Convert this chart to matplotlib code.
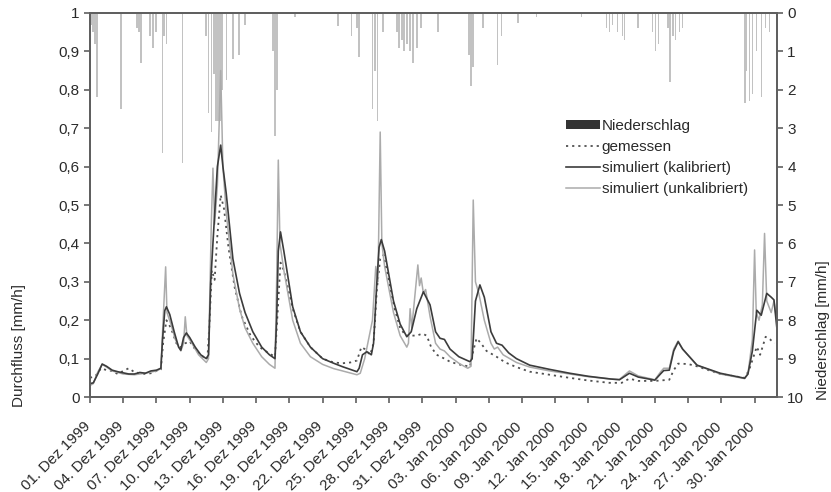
import numpy as np
import pandas as pd
import matplotlib
matplotlib.use("Agg")
import matplotlib.pyplot as plt
from matplotlib.patches import Patch
from matplotlib.lines import Line2D
from matplotlib.ticker import FuncFormatter
from matplotlib.transforms import ScaledTranslation

plt.rcParams['font.family'] = ['Liberation Sans', 'DejaVu Sans']

# Zeit in Tagen ab 01.12.1999 00:00
t_kal = [0.0, 0.3, 0.7, 1.1, 1.5, 2.0, 2.5, 3.0, 3.5, 4.0, 4.5, 5.0, 5.5, 6.0, 6.4,
         6.55, 6.75, 6.9, 7.2, 7.6, 8.0, 8.2, 8.45, 8.7, 9.0, 9.5, 10.0, 10.5, 10.7,
         10.9, 11.2, 11.5, 11.8, 12.0, 12.3, 12.9, 13.5, 14.0, 14.7, 15.5, 16.2, 16.7,
         16.85, 17.0, 17.2, 17.5, 18.3, 19.0, 19.9, 21.0, 22.0, 22.8, 24.1, 24.3, 24.6,
         25.0, 25.4, 25.6, 25.9, 26.1, 26.3, 26.6, 27.4, 28.0, 28.6, 29.0, 29.5, 30.1,
         30.7, 31.2, 31.6, 32.0, 32.5, 33.3, 34.3, 34.5, 34.8, 35.2, 35.6, 36.2, 36.7,
         37.2, 37.8, 38.5, 39.7, 41.5, 43.3, 45.0, 47.0, 47.8, 48.7, 49.5, 51.0, 51.5,
         51.8, 52.3, 52.7, 53.1, 53.5, 54.8, 56.9, 59.1, 59.4, 59.8, 60.2, 60.6, 61.1,
         61.5, 61.75, 62.0]
q_kal = [0.035, 0.037, 0.06, 0.086, 0.08, 0.07, 0.066, 0.063, 0.06, 0.06, 0.064, 0.062,
         0.068, 0.07, 0.075, 0.15, 0.225, 0.235, 0.215, 0.17, 0.13, 0.122, 0.155, 0.167,
         0.155, 0.13, 0.11, 0.10, 0.11, 0.30, 0.45, 0.60, 0.656, 0.60, 0.53, 0.36, 0.27,
         0.22, 0.17, 0.13, 0.11, 0.10, 0.20, 0.38, 0.43, 0.38, 0.235, 0.17, 0.13, 0.10,
         0.088, 0.079, 0.066, 0.075, 0.11, 0.118, 0.11, 0.14, 0.30, 0.39, 0.41, 0.38,
         0.25, 0.19, 0.157, 0.17, 0.23, 0.274, 0.24, 0.17, 0.153, 0.15, 0.125, 0.105,
         0.092, 0.10, 0.25, 0.292, 0.26, 0.17, 0.14, 0.135, 0.115, 0.10, 0.083, 0.072,
         0.062, 0.054, 0.047, 0.045, 0.062, 0.052, 0.044, 0.06, 0.069, 0.07, 0.12, 0.144,
         0.125, 0.083, 0.062, 0.049, 0.06, 0.12, 0.226, 0.213, 0.27, 0.26, 0.253, 0.183]

t_unk = [0.0, 0.3, 0.7, 1.1, 1.5, 2.0, 3.0, 4.0, 5.0, 6.0, 6.4, 6.6, 6.83, 6.95, 7.3,
         7.7, 8.2, 8.45, 8.6, 8.75, 9.2, 9.8, 10.5, 10.7, 10.95, 11.1, 11.25, 11.5, 11.8,
         12.0, 12.3, 12.9, 13.5, 14.0, 14.7, 15.5, 16.2, 16.7, 16.85, 17.0, 17.15, 17.5,
         18.3, 19.0, 19.9, 21.0, 22.0, 22.8, 24.1, 24.4, 24.8, 25.5, 25.8, 26.0, 26.2,
         26.35, 26.6, 27.4, 28.0, 28.6, 28.75, 28.9, 29.05, 29.6, 29.75, 29.9, 30.1, 30.3,
         30.7, 31.2, 31.6, 32.0, 32.5, 33.3, 34.1, 34.4, 34.6, 34.8, 35.1, 35.6, 36.2,
         36.5, 36.8, 37.3, 38.5, 39.7, 41.5, 43.3, 45.0, 47.0, 47.8, 48.7, 49.5, 51.0,
         51.5, 51.8, 52.3, 52.7, 53.1, 53.5, 54.8, 56.9, 59.1, 59.4, 59.8, 60.0, 60.15,
         60.4, 60.7, 60.9, 61.1, 61.5, 61.75, 62.0]
q_unk = [0.03, 0.035, 0.065, 0.085, 0.078, 0.068, 0.06, 0.058, 0.062, 0.068, 0.074, 0.20,
         0.339, 0.22, 0.19, 0.15, 0.12, 0.14, 0.209, 0.16, 0.14, 0.11, 0.09, 0.10, 0.45,
         0.596, 0.45, 0.55, 0.85, 0.60, 0.48, 0.32, 0.23, 0.18, 0.14, 0.105, 0.085, 0.075,
         0.30, 0.617, 0.40, 0.33, 0.20, 0.14, 0.105, 0.085, 0.074, 0.068, 0.058, 0.062,
         0.10, 0.20, 0.34, 0.30, 0.69, 0.40, 0.34, 0.22, 0.16, 0.13, 0.14, 0.23, 0.18,
         0.344, 0.29, 0.31, 0.27, 0.28, 0.21, 0.14, 0.125, 0.12, 0.105, 0.088, 0.075, 0.08,
         0.513, 0.30, 0.27, 0.20, 0.14, 0.125, 0.13, 0.11, 0.09, 0.078, 0.068, 0.06, 0.053,
         0.047, 0.046, 0.068, 0.055, 0.045, 0.065, 0.075, 0.075, 0.125, 0.146, 0.125, 0.083,
         0.06, 0.048, 0.06, 0.15, 0.383, 0.22, 0.20, 0.24, 0.426, 0.25, 0.22, 0.25, 0.20]

t_gem = [0.0, 0.5, 1.0, 1.5, 2.0, 2.5, 3.0, 3.5, 4.0, 4.5, 5.0, 5.5, 6.0, 6.4, 6.6, 6.9,
         7.3, 7.8, 8.2, 8.6, 9.0, 9.6, 10.2, 10.6, 10.8, 11.0, 11.25, 11.5, 11.8, 12.1,
         12.5, 13.05, 13.7, 14.5, 15.3, 16.1, 16.7, 16.9, 17.2, 17.5, 18.3, 19.0, 19.9,
         21.0, 22.0, 22.8, 23.5, 24.1, 24.5, 24.8, 25.3, 25.6, 25.9, 26.2, 26.5, 27.0,
         27.5, 28.0, 28.5, 29.0, 29.5, 30.0, 30.4, 30.8, 31.3, 32.0, 32.5, 33.3, 34.3,
         34.6, 34.9, 35.3, 35.8, 36.7, 37.5, 38.5, 39.7, 41.5, 43.3, 45.0, 46.9, 48.0,
         48.7, 49.5, 51.0, 52.3, 52.7, 53.1, 54.0, 54.8, 56.9, 59.1, 59.5, 59.8, 60.2,
         60.5, 61.0, 61.4, 61.8]
q_gem = [0.05, 0.055, 0.075, 0.07, 0.068, 0.06, 0.068, 0.075, 0.065, 0.062, 0.06, 0.062,
         0.068, 0.072, 0.14, 0.20, 0.18, 0.14, 0.13, 0.14, 0.145, 0.12, 0.105, 0.10, 0.20,
         0.33, 0.305, 0.42, 0.526, 0.49, 0.39, 0.287, 0.21, 0.16, 0.13, 0.115, 0.105, 0.20,
         0.35, 0.33, 0.23, 0.17, 0.13, 0.10, 0.09, 0.088, 0.09, 0.095, 0.13, 0.125, 0.11,
         0.14, 0.28, 0.36, 0.37, 0.30, 0.23, 0.18, 0.16, 0.16, 0.16, 0.165, 0.16, 0.13,
         0.11, 0.10, 0.092, 0.085, 0.079, 0.12, 0.153, 0.14, 0.12, 0.105, 0.09, 0.078,
         0.066, 0.058, 0.05, 0.043, 0.037, 0.037, 0.048, 0.042, 0.042, 0.045, 0.07, 0.087,
         0.086, 0.08, 0.06, 0.05, 0.07, 0.096, 0.131, 0.11, 0.157, 0.15, 0.14]

# Niederschlag (mm/h)
t_ns = [0.09, 0.27, 0.45, 0.63, 2.8, 4.24, 4.42, 4.6, 5.42, 5.69, 5.96, 6.53, 6.68, 6.92,
        8.37, 10.47, 10.68, 10.98, 11.19, 11.37, 11.55, 11.73, 11.91, 12.34, 12.9, 13.45,
        13.99, 16.52, 16.7, 16.88, 18.5, 22.38, 23.62, 24.1, 24.3, 25.48, 25.72, 25.97,
        26.44, 27.71, 27.89, 28.16, 28.34, 28.61, 28.88, 29.15, 29.51, 29.87, 31.41, 34.21,
        34.39, 34.57, 35.47, 36.8, 37.18, 38.63, 40.34, 44.4, 46.66, 46.93, 47.2, 47.65,
        48.1, 48.28, 49.46, 50.81, 51.08, 51.35, 52.17, 52.35, 52.62, 52.89, 53.25, 53.52,
        59.12, 59.3, 59.57, 59.84, 60.2, 60.65, 61.0, 61.37]
p_ns = [0.3, 0.5, 0.8, 2.2, 2.5, 0.4, 0.5, 1.3, 0.6, 0.9, 0.5, 3.65, 0.6, 0.8, 3.9, 0.6,
        2.6, 3.1, 1.6, 2.8, 2.8, 2.8, 2.0, 1.75, 1.2, 1.1, 0.3, 1.0, 3.2, 2.0, 0.1, 0.35,
        0.6, 0.4, 1.14, 2.5, 1.5, 2.8, 0.5, 0.5, 0.9, 0.7, 1.0, 0.8, 1.0, 1.3, 0.9, 0.4,
        0.5, 1.1, 1.9, 1.4, 0.4, 1.35, 0.6, 0.25, 0.1, 0.1, 0.4, 0.5, 0.3, 0.5, 0.6, 0.7,
        0.4, 0.5, 1.0, 0.8, 0.4, 1.8, 0.6, 0.7, 0.5, 0.4, 2.35, 1.5, 2.3, 2.1, 1.0, 2.2,
        0.4, 0.5]

# Achsenbeschriftung alle 3 Tage
start = pd.Timestamp("1999-12-01")
tick_dates = pd.date_range(start, "2000-01-30", freq="3D")
monat = {12: "Dez", 1: "Jan"}
tick_labels = [f"{d.day:02d}. {monat[d.month]} {d.year}" for d in tick_dates]
tick_pos = [(d - start).days for d in tick_dates]

achse = '#606060'
schrift = '#2a2a2a'
fs = 11

fig = plt.figure(figsize=(8.31, 4.92), dpi=100)
ax1 = fig.add_axes([0.1083, 0.193, 0.8264, 0.7806])
ax2 = ax1.twinx()

# Niederschlag von oben
ax2.bar(t_ns, p_ns, width=0.12, color='#c2c2c2', edgecolor='none', align='center')
ax2.set_ylim(10, 0)
ax2.set_yticks(range(0, 11))

ax1.set_zorder(ax2.get_zorder() + 1)
ax1.patch.set_visible(False)

ax1.plot(t_gem, q_gem, color='#505050', lw=1.3, ls=(0, (1.2, 2.2)))
ax1.plot(t_unk, q_unk, color='#ababab', lw=1.1)
ax1.plot(t_kal, q_kal, color='#3c3c3c', lw=1.2)

ax1.set_xlim(0, 62)
ax1.set_ylim(0, 1)
ax1.set_yticks(np.arange(0, 1.01, 0.1))
ax1.yaxis.set_major_formatter(FuncFormatter(
    lambda v, p: "0" if abs(v) < 1e-9 else ("1" if abs(v - 1) < 1e-9 else f"{v:.1f}".replace(".", ","))))
ax1.set_xticks(tick_pos)
ax1.set_xticklabels(tick_labels, rotation=45, ha='right', va='top', rotation_mode='anchor')

for ax in (ax1, ax2):
    for s in ax.spines.values():
        s.set_color(achse)
        s.set_linewidth(1.4)
    ax.tick_params(direction='out', length=4, width=1.2, color=achse, labelsize=fs,
                   labelcolor=schrift)

# Datumsbeschriftung etwas nach links unten versetzen
shift = ScaledTranslation(-0.07, -0.12, fig.dpi_scale_trans)
for lbl in ax1.get_xticklabels():
    lbl.set_transform(lbl.get_transform() + shift)

ax1.set_ylabel("Durchfluss [mm/h]", fontsize=fs, loc='bottom', color=schrift)
ax2.set_ylabel("Niederschlag [mm/h]", fontsize=fs, loc='bottom', color=schrift)
ax1.yaxis.set_label_coords(-0.093, -0.026)
ax2.yaxis.set_label_coords(1.057, -0.008)

handles = [Patch(facecolor='#333333', edgecolor='none'),
           Line2D([], [], color='#505050', lw=1.3, ls=(0, (1.2, 2.2))),
           Line2D([], [], color='#3c3c3c', lw=1.2),
           Line2D([], [], color='#ababab', lw=1.1)]
labels = ["Niederschlag", "gemessen", "simuliert (kalibriert)", "simuliert (unkalibriert)"]
ax1.legend(handles, labels, loc='upper left', bbox_to_anchor=(0.681, 0.759),
           bbox_transform=fig.transFigure, frameon=False, fontsize=fs,
           handlelength=2.2, handleheight=0.55, handletextpad=0.15, labelspacing=0.47,
           borderpad=0, borderaxespad=0, labelcolor=schrift)

fig.savefig("out.png", dpi=100)
